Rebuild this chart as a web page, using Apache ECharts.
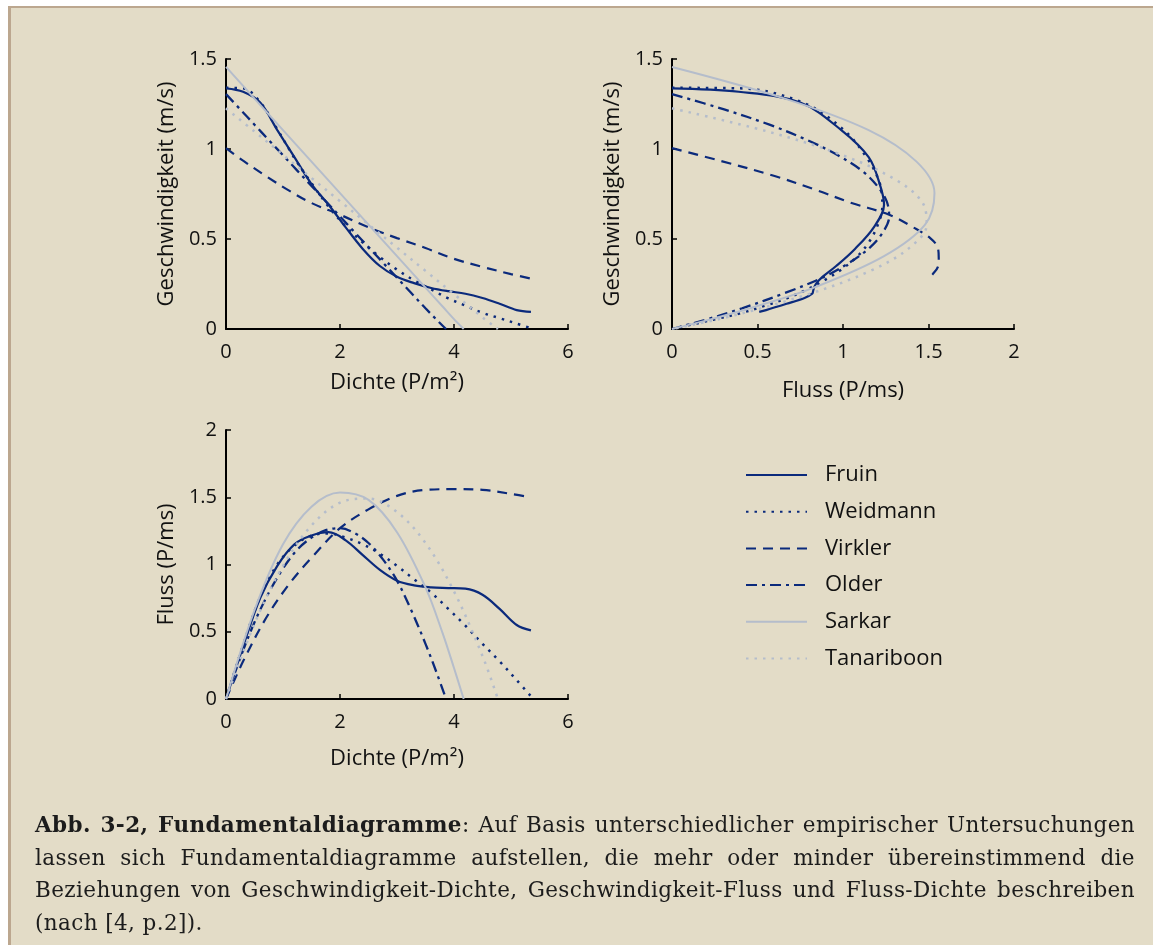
<!DOCTYPE html>
<html>
<head>
<meta charset="utf-8">
<title>Fundamentaldiagramme</title>
<script src="https://cdn.jsdelivr.net/npm/echarts@6/dist/echarts.min.js"></script>
<style>
  html, body { margin: 0; padding: 0; background: #ffffff; }
  #frame {
    position: absolute; left: 8px; top: 6px; width: 1142px; height: 937px;
    background: #e3dcc7;
    border-top: 2px solid #bca78f;
    border-left: 3px solid #bca78f;
  }
  #chart { position: absolute; left: 0; top: 0; width: 1153px; height: 945px; }
  #caption {
    position: absolute; left: 35px; top: 809px; width: 1100px;
    font-family: 'DejaVu Serif', serif; font-size: 21.5px; line-height: 32.5px;
    letter-spacing: 0.4px; color: #1c1c1c;
  }
  #caption .j { text-align: justify; text-align-last: justify; white-space: nowrap; }
</style>
</head>
<body>
<div id="frame"></div>
<div id="chart"></div>
<div id="caption">
  <div class="j"><b>Abb. 3-2, Fundamentaldiagramme</b>: Auf Basis unterschiedlicher empirischer Untersuchungen</div>
  <div class="j">lassen sich Fundamentaldiagramme aufstellen, die mehr oder minder übereinstimmend die</div>
  <div class="j">Beziehungen von Geschwindigkeit-Dichte, Geschwindigkeit-Fluss und Fluss-Dichte beschreiben</div>
  <div>(nach [4, p.2]).</div>
</div>

<script>
// Werte: Dichte (P/m²), Geschwindigkeit (m/s), Fluss (P/ms)
const fruinDensity = [0, 0.3, 0.6, 0.9, 1.2, 1.5, 1.8, 2.1, 2.4, 2.7, 3.0, 3.3, 3.6, 3.9, 4.2, 4.5, 4.8, 5.1, 5.35];
const fruinSpeed   = [1.337, 1.318, 1.258, 1.105, 0.955, 0.805, 0.69, 0.565, 0.445, 0.35, 0.29, 0.255, 0.228, 0.21, 0.196, 0.172, 0.14, 0.105, 0.095];
const fruinFlow    = [0, 0.39, 0.75, 0.99, 1.15, 1.215, 1.24, 1.18, 1.07, 0.96, 0.88, 0.845, 0.83, 0.825, 0.82, 0.775, 0.67, 0.55, 0.51];

const weidmannDensity = [0, 0.3, 0.6, 0.9, 1.2, 1.5, 1.8, 2.1, 2.4, 2.7, 3.0, 3.3, 3.6, 3.9, 4.2, 4.5, 4.8, 5.1, 5.35];
const weidmannSpeed   = [1.34, 1.337, 1.26, 1.11, 0.95, 0.81, 0.68, 0.57, 0.48, 0.40, 0.33, 0.27, 0.22, 0.17, 0.13, 0.09, 0.06, 0.03, 0.005];
const weidmannFlow    = [0, 0.40, 0.76, 1.0, 1.14, 1.215, 1.23, 1.2, 1.15, 1.08, 0.99, 0.89, 0.79, 0.67, 0.545, 0.41, 0.28, 0.14, 0.02];

const virklerDensity = [0, 0.3, 0.7, 1.1, 1.5, 2.0, 2.5, 3.0, 3.5, 4.0, 4.5, 5.0, 5.35];
const virklerSpeed   = [1.005, 0.935, 0.85, 0.77, 0.70, 0.635, 0.565, 0.505, 0.45, 0.39, 0.345, 0.305, 0.28];
const virklerFlow    = [0, 0.28, 0.6, 0.85, 1.05, 1.27, 1.41, 1.51, 1.555, 1.56, 1.555, 1.525, 1.50];

const olderDensity = [0, 0.25, 0.5, 0.75, 1.0, 1.25, 1.5, 1.75, 2.0, 2.25, 2.5, 2.75, 3.0, 3.25, 3.5, 3.7, 3.86];
const olderSpeed   = [1.305, 1.22, 1.135, 1.05, 0.965, 0.88, 0.795, 0.71, 0.625, 0.54, 0.455, 0.37, 0.285, 0.2, 0.115, 0.05, 0];
const olderFlow    = [0, 0.305, 0.57, 0.79, 0.97, 1.11, 1.2, 1.255, 1.27, 1.235, 1.16, 1.04, 0.88, 0.66, 0.41, 0.19, 0];

const sarkarDensity = [0, 0.5, 1.0, 1.5, 2.0, 2.5, 3.0, 3.5, 3.8, 4.0, 4.17];
const sarkarSpeed   = [1.456, 1.28, 1.105, 0.93, 0.755, 0.58, 0.405, 0.23, 0.125, 0.055, 0];
const sarkarFlow    = [0, 0.66, 1.15, 1.43, 1.535, 1.48, 1.24, 0.83, 0.49, 0.23, 0];

const tanariboonDensity = [0, 0.5, 1.0, 1.5, 2.0, 2.5, 3.0, 3.5, 4.0, 4.5, 4.77];
const tanariboonSpeed   = [1.226, 1.097, 0.968, 0.839, 0.71, 0.581, 0.452, 0.323, 0.194, 0.065, 0];
const tanariboonFlow    = [0, 0.56, 0.99, 1.29, 1.46, 1.49, 1.39, 1.16, 0.8, 0.32, 0];

const DARK = '#0b2a7c';
const GRAY = '#b5bdcb';
const FONT = 'Open Sans';

const models = [
  { name: 'Fruin',      d: fruinDensity,      v: fruinSpeed,      q: fruinFlow,      line: { color: DARK, width: 2.2, type: 'solid' } },
  { name: 'Weidmann',   d: weidmannDensity,   v: weidmannSpeed,   q: weidmannFlow,   line: { color: DARK, width: 2.5, type: [2.5, 6] } },
  { name: 'Virkler',    d: virklerDensity,    v: virklerSpeed,    q: virklerFlow,    line: { color: DARK, width: 2.2, type: [10, 7] } },
  { name: 'Older',      d: olderDensity,      v: olderSpeed,      q: olderFlow,      line: { color: DARK, width: 2.3, type: [11, 5, 3, 5] } },
  { name: 'Sarkar',     d: sarkarDensity,     v: sarkarSpeed,     q: sarkarFlow,     line: { color: GRAY, width: 2,   type: 'solid' } },
  { name: 'Tanariboon', d: tanariboonDensity, v: tanariboonSpeed, q: tanariboonFlow, line: { color: GRAY, width: 2.5, type: [2.5, 6] } }
];

function pairs(xs, ys) {
  return xs.map((x, i) => [x, ys[i]]);
}

function axis(gridIndex, min, max, interval, name, nameGap, isY) {
  return {
    type: 'value', gridIndex, min, max, interval,
    name, nameLocation: 'middle', nameGap,
    nameTextStyle: { fontFamily: FONT, fontSize: 22, color: '#111' },
    axisLine: { show: true, onZero: false, lineStyle: { color: '#000', width: 2 } },
    axisTick: { show: true, inside: true, length: 5, lineStyle: { color: '#000', width: 1.5 } },
    axisLabel: { fontFamily: FONT, fontSize: 20, color: '#111', margin: isY ? 9 : 13 },
    splitLine: { show: false }
  };
}

const series = [];
models.forEach(m => {
  const base = {
    name: m.name, type: 'line', showSymbol: false, symbol: 'none',
    smooth: 0.35, lineStyle: m.line, itemStyle: { color: m.line.color }
  };
  series.push(Object.assign({}, base, { xAxisIndex: 0, yAxisIndex: 0, data: pairs(m.d, m.v) }));
  series.push(Object.assign({}, base, { xAxisIndex: 1, yAxisIndex: 1, data: pairs(m.q, m.v) }));
  series.push(Object.assign({}, base, { xAxisIndex: 2, yAxisIndex: 2, data: pairs(m.d, m.q) }));
});

const chart = echarts.init(document.getElementById('chart'));
chart.setOption({
  animation: false,
  backgroundColor: 'transparent',
  textStyle: { fontFamily: FONT },
  grid: [
    { left: 226, top: 59, width: 342, height: 270 },
    { left: 672, top: 59, width: 342, height: 270 },
    { left: 226, top: 430, width: 342, height: 269 }
  ],
  xAxis: [
    axis(0, 0, 6, 2, 'Dichte (P/m²)', 43, false),
    axis(1, 0, 2, 0.5, 'Fluss (P/ms)', 51, false),
    axis(2, 0, 6, 2, 'Dichte (P/m²)', 49, false)
  ],
  yAxis: [
    axis(0, 0, 1.5, 0.5, 'Geschwindigkeit (m/s)', 48, true),
    axis(1, 0, 1.5, 0.5, 'Geschwindigkeit (m/s)', 48, true),
    axis(2, 0, 2, 0.5, 'Fluss (P/ms)', 48, true)
  ],
  legend: {
    orient: 'vertical', left: 745, top: 464, padding: 0,
    itemWidth: 61, itemHeight: 14, itemGap: 14.7,
    selectedMode: false,
    data: models.map(m => m.name),
    itemStyle: { opacity: 0 },
    textStyle: { fontFamily: FONT, fontSize: 22, color: '#111', lineHeight: 22, padding: [0, 0, 0, 13] }
  },
  series
});
</script>
</body>
</html>
